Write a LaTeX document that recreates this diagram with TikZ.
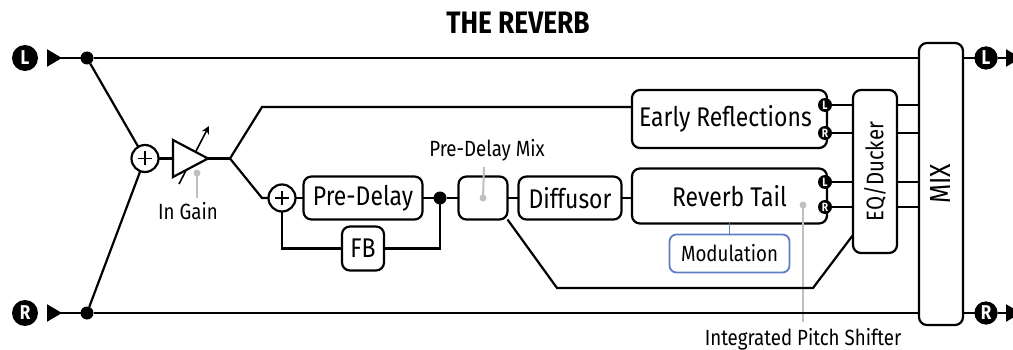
\documentclass[tikz,border=0pt]{standalone}
\usepackage{fontspec}
\setmainfont{Fira Sans}[FakeStretch=0.85]
\usepackage{tikz}
\usetikzlibrary{arrows.meta,positioning,calc}
\definecolor{modblue}{RGB}{95,125,196}
\definecolor{pointgray}{RGB}{192,192,192}
\newcommand\boxfont{\fontsize{27}{30}\selectfont}
\newcommand\labfont{\fontsize{22}{25}\selectfont}

\begin{document}
\begin{tikzpicture}[
            x=1pt, y=-1pt,
            line width=2.2pt,
            every node/.style={inner sep=0pt, outer sep=0pt},
            block/.style={rectangle, rounded corners=8pt, draw, fill=white,
                          minimum height=43pt, font=\boxfont},
            tallbox/.style={rectangle, rounded corners=8pt, draw, fill=white, font=\boxfont},
            modbox/.style={rectangle, rounded corners=7pt, draw=modblue, line width=1.8pt,
                           fill=white, minimum width=120pt, minimum height=38pt, font=\labfont},
            bigbadge/.style={circle, fill=black, text=white, minimum size=26pt,
                             font=\fontsize{20}{20}\selectfont\bfseries},
            smallbadge/.style={circle, fill=black, text=white, minimum size=14pt,
                               font=\fontsize{12}{12}\selectfont\bfseries},
            jdot/.style={circle, fill=black, minimum size=13pt},
            pdot/.style={circle, fill=pointgray, minimum size=7pt},
            sumnode/.style={circle, draw, fill=white, minimum size=27pt,
                            path picture={\draw[line width=1.8pt]
                              ([xshift=-7pt]path picture bounding box.center) -- ([xshift=7pt]path picture bounding box.center)
                              ([yshift=-7pt]path picture bounding box.center) -- ([yshift=7pt]path picture bounding box.center);}},
            pointer/.style={draw=pointgray, line width=2pt},
            intip/.style={{Triangle[reversed,length=15pt,width=17pt]}-},
            outtip/.style={-{Triangle[length=15pt,width=17pt]}}
        ]
        \useasboundingbox (0,0) rectangle (1013,350);

        \node[font=\fontsize{31}{33}\selectfont\bfseries] (title) at (518,23) {THE REVERB};

        % inputs
        \node[bigbadge] (inL) at (25,58) {L};
        \node[bigbadge] (inR) at (25,313) {R};
        \coordinate (inLarr) at (47,58);
        \coordinate (inRarr) at (47,313);
        \node[jdot] (dotL) at (87,58) {};
        \node[jdot] (dotR) at (87,313) {};

        \node[sumnode] (sumA) at (145,158.5) {};

        % in gain stage
        \draw[-{Stealth[length=8pt,width=8pt]}, line width=1.6pt] (179,184) -- (209,126);
        \draw[fill=white] (173,140) -- (208,158.5) -- (173,177) -- cycle;
        \coordinate (ampin) at (173,158.5);
        \coordinate (ampout) at (208,158.5);
        \coordinate (split) at (230,158.5);
        \coordinate (erin) at (262,107);
        \coordinate (rtin) at (262,198);
        \node[pdot] (gaindot) at (197,173) {};
        \coordinate (gainend) at (197,198);
        \node[font=\labfont] (gainlab) at (188,211) {In Gain};

        % pre-delay chain
        \node[sumnode] (sumB) at (282,198) {};
        \node[block, minimum width=119pt, right=8pt of sumB] (predelay) {Pre-Delay};
        \node[block, minimum width=42pt, minimum height=44pt, below=7pt of predelay] (fb) {FB};
        \node[jdot] (fbdot) at (440,198) {};
        \node[block, minimum width=49pt, right=12pt of fbdot] (pdmix) {};
        \node[block, minimum width=103pt, right=11pt of pdmix] (diffusor) {Diffusor};
        \node[font=\labfont] (pdmixlab) at (487,150) {Pre-Delay Mix};
        \coordinate (pdmixend) at (484,167);

        % reverb engines
        \node[block, minimum width=195pt, minimum height=58pt] (er) at (729.5,119) {Early Reflections\hspace*{8pt}};
        \node[block, minimum width=195pt, minimum height=55pt] (reverb) at (729.5,196) {Reverb Tail};
        \node[modbox, below=11pt of reverb] (mod) {Modulation};
        \node[smallbadge] (erL) at ($(er.east)+(-2,-14)$) {L};
        \node[smallbadge] (erR) at ($(er.east)+(-2,14)$) {R};
        \node[smallbadge] (rtL) at ($(reverb.east)+(-2,-14)$) {L};
        \node[smallbadge] (rtR) at ($(reverb.east)+(-2,11)$) {R};
        \node[pdot] (pitchdot) at (803,205) {};
        \coordinate (pitchend) at (803,322);
        \node[font=\labfont] (pitchlab) at (803,339) {Integrated Pitch Shifter};

        % output stage
        \node[tallbox, minimum width=44pt, minimum height=163pt] (eq) at (875,171.5) {\rotatebox{90}{\fontsize{24}{26}\selectfont EQ/Ducker}};
        \node[tallbox, minimum width=44pt, minimum height=282pt] (mix) at (941,184) {\rotatebox{90}{\fontsize{29}{31}\selectfont MIX}};
        \node[bigbadge, minimum size=23pt] (outL) at (986,58) {L};
        \node[bigbadge, minimum size=23pt] (outR) at (986,313) {R};
        \coordinate (outLarr) at (1021,58);
        \coordinate (outRarr) at (1021,313);
        \coordinate (low1) at (557,288);
        \coordinate (low2) at (813,288);

        % pointers
        \draw[pointer] (gaindot) -- (gainend);
        \draw[pointer] (pdmix.center) -- (pdmixend);
        \node[pdot] at (pdmix.center) {};
        \draw[pointer] (pitchdot) -- (pitchend);

        % signal lines
        \draw[intip] (inLarr) -- (dotL);
        \draw[intip] (inRarr) -- (dotR);
        \draw (dotL) -- (dotL -| mix.west);
        \draw (dotR) -- (dotR -| mix.west);
        \draw (dotL) -- (sumA);
        \draw (dotR) -- (sumA);
        \draw (sumA) -- (ampin);
        \draw (ampout) -- (split);
        \draw (split) -- (erin) -- (erin -| er.west);
        \draw (split) -- (rtin) -- (sumB);
        \draw (sumB) -- (predelay);
        \draw (predelay) -- (fbdot);
        \draw (fbdot) -- (pdmix);
        \draw (sumB) |- (fb);
        \draw (fb) -| (fbdot);
        \draw (pdmix) -- (diffusor);
        \draw (diffusor) -- (diffusor -| reverb.west);
        \draw (pdmix.south east) -- (low1) -- (low2) -- ($(eq.south west)+(0,-18)$);
        \draw[modblue, line width=1.8pt] (mod.north) -- (mod.north |- reverb.south);
        \foreach \b in {erL,erR,rtL,rtR} {
            \draw (\b) -- (\b -| eq.west);
            \draw (\b -| eq.east) -- (\b -| mix.west);
        }
        \draw (mix.east |- outL) -- (outL);
        \draw (mix.east |- outR) -- (outR);
        \draw[outtip] (outL) -- (outLarr);
        \draw[outtip] (outR) -- (outRarr);
        \node[bigbadge, minimum size=23pt] at (outL) {L};
        \node[bigbadge, minimum size=23pt] at (outR) {R};

        \end{tikzpicture}
\end{document}
